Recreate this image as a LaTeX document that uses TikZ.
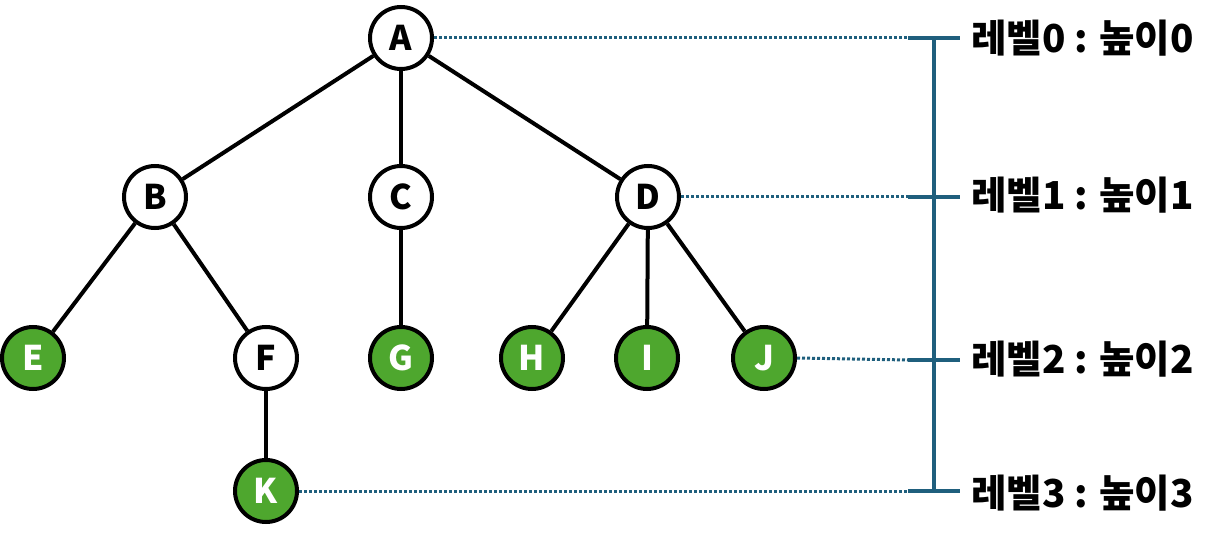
\documentclass[tikz,border=0pt]{standalone}
\usepackage{fontspec}
\newfontfamily\krfont{Noto Sans CJK KR}
\definecolor{leafgreen}{RGB}{78,167,46}
\definecolor{teal}{RGB}{31,95,125}
\begin{document}
\begin{tikzpicture}[x=1pt,y=-1pt,
  vtx/.style={circle,draw=black,line width=4pt,minimum size=62pt,inner sep=0pt,fill=white,
    font=\krfont\bfseries\fontsize{34}{34}\selectfont},
  leaf/.style={vtx,fill=leafgreen,text=white},
  edge/.style={line width=4pt,black},
  dots/.style={teal,line width=3pt,dash pattern=on 3pt off 2pt},
  brace/.style={teal,line width=4pt},
  lvl/.style={anchor=west,inner sep=0pt,font=\krfont\bfseries\fontsize{38.5}{38.5}\selectfont}]
\useasboundingbox (0,0) rectangle (1223,540);
\node[vtx]  (A) at (401,38)  {A};
\node[vtx]  (B) at (155,197) {B};
\node[vtx]  (C) at (401,197) {C};
\node[vtx]  (D) at (648,197) {D};
\node[leaf] (E) at (33,358)  {E};
\node[vtx]  (F) at (266,358) {F};
\node[leaf] (G) at (401,358) {G};
\node[leaf] (H) at (532,358) {H};
\node[leaf] (I) at (647,358) {I};
\node[leaf] (J) at (764,358) {J};
\node[leaf] (K) at (266,491) {K};
\foreach \a/\b in {A/B,A/C,A/D,B/E,B/F,C/G,D/H,D/I,D/J,F/K}
  \draw[edge] (\a) -- (\b);
\coordinate (t0) at (908,38);
\coordinate (t1) at (908,197);
\coordinate (t2) at (908,360);
\coordinate (t3) at (908,491);
\coordinate (e0) at (960,38);
\coordinate (e1) at (960,197);
\coordinate (e2) at (960,360);
\coordinate (e3) at (960,491);
\coordinate (vtop) at (934,38);
\coordinate (vbot) at (934,491);
\draw[dots] (A.east) -- (t0);
\draw[dots] (D.east) -- (t1);
\draw[dots] (J.east) -- (t2);
\draw[dots] (K.east) -- (t3);
\draw[brace] (t0) -- (e0);
\draw[brace] (t1) -- (e1);
\draw[brace] (t2) -- (e2);
\draw[brace] (t3) -- (e3);
\draw[brace] (vtop) -- (vbot);
\node[lvl] (L0) at (971,38)  {레벨0 : 높이0};
\node[lvl] (L1) at (971,195) {레벨1 : 높이1};
\node[lvl] (L2) at (971,359) {레벨2 : 높이2};
\node[lvl] (L3) at (971,493) {레벨3 : 높이3};
\end{tikzpicture}
\end{document}
